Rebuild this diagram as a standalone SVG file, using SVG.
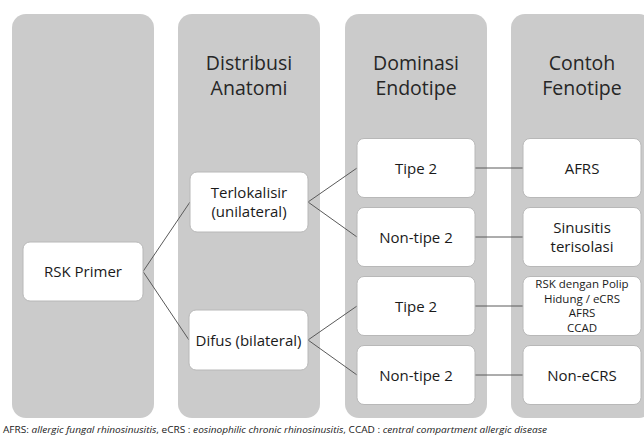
<svg xmlns="http://www.w3.org/2000/svg" width="644" height="438" viewBox="0 0 644 438">
<style>
.col{fill:#cbcbcb}
.box{fill:#ffffff;stroke:#b8b8b8;stroke-width:1}
.hd{font-family:"Open Sans","Liberation Sans",sans-serif;font-size:19.5px;fill:#262626;text-anchor:middle}
.t{font-family:"Open Sans","Liberation Sans",sans-serif;font-size:15px;fill:#1a1a1a;text-anchor:middle}
.s{font-family:"Open Sans","Liberation Sans",sans-serif;font-size:11.5px;fill:#1a1a1a;text-anchor:middle}
.cap{font-family:"Open Sans","Liberation Sans",sans-serif;font-size:9.5px;fill:#1a1a1a}
.ln{stroke:#5a5a5a;stroke-width:1;fill:none}
</style>
<rect width="644" height="438" fill="#ffffff"/>
<g id="columns">
<rect class="col" x="12" y="14" width="142" height="404" rx="14"/>
<rect class="col" x="178" y="14" width="142" height="404" rx="14"/>
<rect class="col" x="345" y="14" width="142" height="404" rx="14"/>
<rect class="col" x="511" y="14" width="142" height="404" rx="14"/>
</g>
<g id="headers">
<text class="hd" x="249" y="70">Distribusi</text>
<text class="hd" x="249" y="95">Anatomi</text>
<text class="hd" x="416" y="70">Dominasi</text>
<text class="hd" x="416" y="95">Endotipe</text>
<text class="hd" x="582" y="70">Contoh</text>
<text class="hd" x="582" y="95">Fenotipe</text>
</g>
<g id="connectors">
<polyline class="ln" points="190,202 143,271.5 189,340"/>
<polyline class="ln" points="357,168 308,202 357,237"/>
<polyline class="ln" points="357,306 308,340 357,375"/>
<line class="ln" x1="475" y1="168" x2="523" y2="168"/>
<line class="ln" x1="475" y1="237" x2="523" y2="237"/>
<line class="ln" x1="475" y1="306" x2="523" y2="306"/>
<line class="ln" x1="475" y1="375" x2="523" y2="375"/>
</g>
<g id="rsk-primer">
<rect class="box" x="23" y="242" width="120" height="59" rx="7"/>
<text class="t" x="83" y="277">RSK Primer</text>
</g>
<g id="terlokalisir">
<rect class="box" x="190" y="172" width="118" height="60" rx="7"/>
<text class="t" x="249" y="198">Terlokalisir</text>
<text class="t" x="249" y="217">(unilateral)</text>
</g>
<g id="difus">
<rect class="box" x="189" y="310" width="119" height="60" rx="7"/>
<text class="t" x="248.5" y="345.5">Difus (bilateral)</text>
</g>
<g id="tipe2-a">
<rect class="box" x="357" y="138.5" width="118" height="59" rx="7"/>
<text class="t" x="416" y="173.5">Tipe 2</text>
</g>
<g id="nontipe2-a">
<rect class="box" x="357" y="207.5" width="118" height="59" rx="7"/>
<text class="t" x="416" y="242.5">Non-tipe 2</text>
</g>
<g id="tipe2-b">
<rect class="box" x="357" y="276.5" width="118" height="59" rx="7"/>
<text class="t" x="416" y="311.5">Tipe 2</text>
</g>
<g id="nontipe2-b">
<rect class="box" x="357" y="345.5" width="118" height="59" rx="7"/>
<text class="t" x="416" y="380.5">Non-tipe 2</text>
</g>
<g id="afrs">
<rect class="box" x="523" y="138.5" width="118" height="59" rx="7"/>
<text class="t" x="582" y="173.5">AFRS</text>
</g>
<g id="sinusitis">
<rect class="box" x="523" y="207.5" width="118" height="59" rx="7"/>
<text class="t" x="582" y="233">Sinusitis</text>
<text class="t" x="582" y="252">terisolasi</text>
</g>
<g id="rsk-polip">
<rect class="box" x="523" y="276.5" width="118" height="59" rx="7"/>
<text class="s" x="582" y="288">RSK dengan Polip</text>
<text class="s" x="582" y="302.5">Hidung / eCRS</text>
<text class="s" x="582" y="317">AFRS</text>
<text class="s" x="582" y="331.5">CCAD</text>
</g>
<g id="non-ecrs">
<rect class="box" x="523" y="345.5" width="118" height="59" rx="7"/>
<text class="t" x="582" y="380.5">Non-eCRS</text>
</g>
<g id="caption">
<text class="cap" x="3" y="433" textLength="544" lengthAdjust="spacingAndGlyphs">AFRS: <tspan font-style="italic">allergic fungal rhinosinusitis</tspan>, eCRS : <tspan font-style="italic">eosinophilic chronic rhinosinusitis</tspan>, CCAD : <tspan font-style="italic">central compartment allergic disease</tspan></text>
</g>
</svg>
